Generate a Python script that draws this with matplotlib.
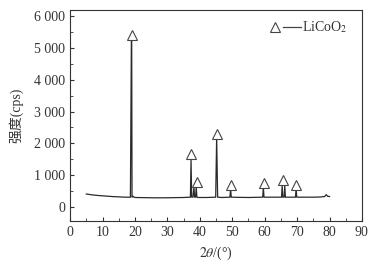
import matplotlib
matplotlib.use('Agg')
import matplotlib.pyplot as plt
from matplotlib.ticker import MultipleLocator, FuncFormatter

# XRD trace (2theta in degrees, intensity in cps)
two_theta = [5, 7, 9, 11, 13, 15, 17, 18.6, 18.9, 19.0, 19.1, 19.4, 19.7, 20.1,
             23, 26, 29, 32, 35, 37.1, 37.3, 37.5, 37.9, 38.2, 38.4, 38.7, 38.9, 39.1, 39.5,
             42, 44.9, 45.2, 45.5, 47, 49.3, 49.5, 49.7, 52, 55, 57, 59.4, 59.6, 59.8,
             62, 65.2, 65.4, 65.6, 66.0, 66.2, 66.4, 68, 69.5, 69.7, 69.9, 72, 75, 77,
             78.5, 79.0, 79.4, 80]
intensity = [400, 370, 350, 335, 320, 310, 300, 300, 5270, 5270, 300, 330, 300, 290,
             285, 280, 280, 285, 290, 300, 1480, 300, 300, 620, 300, 300, 630, 300, 290,
             290, 300, 2190, 300, 290, 300, 570, 300, 295, 290, 295, 300, 610, 300,
             300, 300, 660, 300, 300, 660, 300, 300, 300, 570, 300, 300, 300, 305,
             320, 380, 330, 320]

# LiCoO2 reflections marked with open triangles
peak_pos = [19.0, 37.3, 39.0, 45.2, 49.6, 59.7, 65.8, 69.8]
mark_y = [5420, 1670, 770, 2300, 690, 735, 845, 690]

plt.rcParams['font.family'] = ['Liberation Serif', 'Noto Sans CJK SC']
plt.rcParams['mathtext.fontset'] = 'stix'

fig = plt.figure(figsize=(3.83, 2.64), dpi=100)
ax = fig.add_axes([0.183, 0.163, 0.762, 0.799])

ink = '#2a2a2a'
fs = 10
ax.plot(two_theta, intensity, color=ink, lw=0.9)
ax.plot(peak_pos, mark_y, ls='none', marker='^', ms=7, mfc='white',
        mec='#444444', mew=0.8)

# legend drawn by hand: triangle, dash, label
ax.plot([0.702], [0.919], transform=ax.transAxes, marker='^', ms=7,
        mfc='white', mec='#444444', mew=0.8, ls='none')
ax.plot([0.728, 0.79], [0.919, 0.919], transform=ax.transAxes,
        color='#444444', lw=0.9)
ax.text(0.795, 0.919, r'LiCoO$_2$', transform=ax.transAxes, fontsize=fs,
        va='center', ha='left', color='#333333')

ax.set_xlim(0, 90)
ax.set_ylim(-450, 6200)
ax.xaxis.set_major_locator(MultipleLocator(10))
ax.xaxis.set_minor_locator(MultipleLocator(5))
ax.yaxis.set_major_locator(MultipleLocator(1000))
ax.yaxis.set_minor_locator(MultipleLocator(500))
ax.yaxis.set_major_formatter(FuncFormatter(
    lambda v, p: '{:,.0f}'.format(v).replace(',', ' ')))
ax.tick_params(which='both', direction='in', colors='#333333',
               labelsize=fs, top=False, right=False)
ax.tick_params(which='major', length=3)
ax.tick_params(which='minor', length=2)
for s in ax.spines.values():
    s.set_color('#333333')
    s.set_linewidth(0.8)

ax.set_xlabel(r'$2\theta$/(°)', fontsize=fs, color='#333333', labelpad=4)
ax.set_ylabel('强度(cps)', fontsize=fs, color='#333333', labelpad=8)

fig.savefig('out.png', dpi=100)
